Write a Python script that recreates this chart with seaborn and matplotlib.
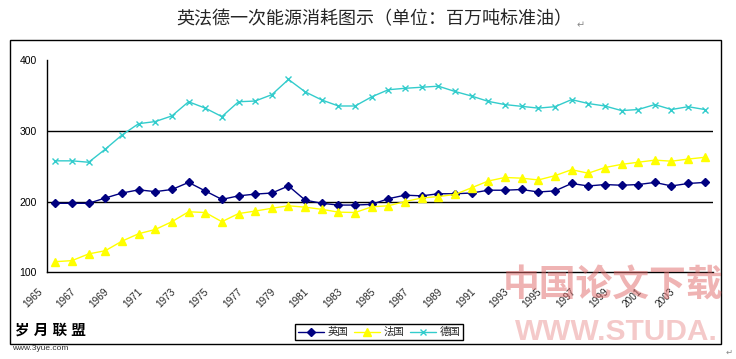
import numpy as np
import pandas as pd
import matplotlib
matplotlib.use("Agg")
import matplotlib.pyplot as plt
import matplotlib.patches as mpatches
import matplotlib.transforms as mtransforms
import seaborn as sns

#***********************
#   Data
#***********************
years = list(range(1965, 2005))

uk = [197.5, 197.5, 197.5, 205, 212, 216.5, 214, 217, 227, 215,
      203, 208, 210.5, 212, 222, 202, 197.5, 195, 195, 196,
      204, 209, 208, 211, 211, 212, 216, 216, 217, 213.5,
      215, 225.5, 222, 224, 223, 224, 227, 222, 225.5, 227]

france = [115, 116.5, 126, 130.5, 144, 154.5, 160.5, 171.5, 185.5, 184.5,
          171.5, 183, 186.5, 190.5, 194, 192, 189, 185, 184.5, 192.5,
          194, 200, 205, 207, 210, 219.5, 229, 234, 233, 230.5,
          236.5, 245, 240, 248, 252.5, 255.5, 258.5, 257, 260, 262.5]

germany = [257.5, 257.5, 255.5, 274, 294, 310, 313, 321, 341, 332,
           320, 341, 342, 351, 372.5, 355, 343.5, 335, 335, 348,
           358, 360, 361.5, 363, 355.5, 349, 341.5, 337, 334.5, 332,
           334, 344, 338.5, 335, 328.5, 330, 337, 330, 334, 330]

series_names = ["英国", "法国", "德国"]
tick_years = [str(y) for y in range(1965, 2005, 2)]
title = "英法德一次能源消耗图示（单位：百万吨标准油）"

df = pd.DataFrame({"idx": np.arange(len(years)), "year": years,
                   "英国": uk, "法国": france, "德国": germany})

#***********************
#   Style
#***********************
sns.set_style("white")
plt.rcParams['font.family'] = ['Liberation Sans', 'Noto Sans CJK SC', 'DejaVu Sans']

colors = {"英国": "#000080", "法国": "#FFFF00", "德国": "#33CCCC"}
markers = {"英国": "D", "法国": "^", "德国": "x"}
msizes = {"英国": 4.5, "法国": 5.5, "德国": 5}

fig = plt.figure(figsize=(7.36, 3.59), dpi=100)
ax = fig.add_axes([0.0639, 0.2415, 0.905, 0.5914])

ax.axhline(200, color="black", lw=1, zorder=0)
ax.axhline(300, color="black", lw=1, zorder=0)

for name in series_names:
    sns.lineplot(data=df, x="idx", y=name, ax=ax, color=colors[name],
                 marker=markers[name], markersize=msizes[name],
                 markeredgecolor=colors[name], markeredgewidth=1,
                 lw=1, label=name, legend=False)

ax.set_xlim(-0.5, 39.5)
ax.set_ylim(100, 400)
ax.set_xlabel("")
ax.set_ylabel("")
ax.set_yticks([100, 200, 300, 400])
for s in ["top", "right"]:
    ax.spines[s].set_visible(False)
for s in ["left", "bottom"]:
    ax.spines[s].set_color("black")
    ax.spines[s].set_linewidth(1)

ax.tick_params(axis="y", direction="inout", length=5, width=1,
               labelsize=7.5, pad=5, colors="black")

ax.set_xticks(np.arange(0, len(years), 2))
ax.set_xticklabels(tick_years, rotation=45, ha="right",
                   rotation_mode="anchor", fontsize=7.2)
ax.set_xticks(np.arange(-0.5, len(years), 1), minor=True)
ax.tick_params(axis="x", which="major", length=0, pad=10)
ax.tick_params(axis="x", which="minor", direction="in", length=3.5,
               width=0.8, color="black")
shift = mtransforms.ScaledTranslation(-18 / 100, 0, fig.dpi_scale_trans)
for lbl in ax.get_xticklabels():
    lbl.set_transform(lbl.get_transform() + shift)

# legend
handles, labels = ax.get_legend_handles_labels()
leg = fig.legend(handles, labels, loc="center", bbox_to_anchor=(0.515, 0.075),
                 ncol=3, frameon=True, fancybox=False, framealpha=1,
                 edgecolor="black", fontsize=7.5, handlelength=2.5,
                 columnspacing=0.6, handletextpad=0.3, borderpad=0.3)
leg.get_frame().set_linewidth(1)

# outer chart border
fig.add_artist(mpatches.Rectangle((0.0136, 0.0418), 0.9655, 0.847,
                                  transform=fig.transFigure, fill=False,
                                  ec="black", lw=1))

fig.text(0.508, 0.945, title, ha="center", va="center", fontsize=13)
fig.text(0.789, 0.93, "↵", ha="center", va="center", fontsize=7,
         color="#888888", family=["DejaVu Sans"])

# watermarks
fig.text(0.02, 0.078, "岁 月 联 盟", ha="left", va="center", fontsize=10.5,
         fontweight="bold", color="black")
fig.text(0.017, 0.028, "www.3yue.com", ha="left", va="center", fontsize=6,
         color="#333333")
fig.text(0.683, 0.2, "中国论文下载", ha="left", va="center", fontsize=26.5,
         fontweight="bold", color="#e06868", alpha=0.5)
fig.text(0.70, 0.075, "WWW.STUDA.", ha="left", va="center", fontsize=21.5,
         fontweight="bold", color="#e88888", alpha=0.45)
fig.text(0.996, 0.02, "↵", ha="right", va="center", fontsize=6,
         color="#888888", family=["DejaVu Sans"])

fig.savefig("out.png", dpi=100)
